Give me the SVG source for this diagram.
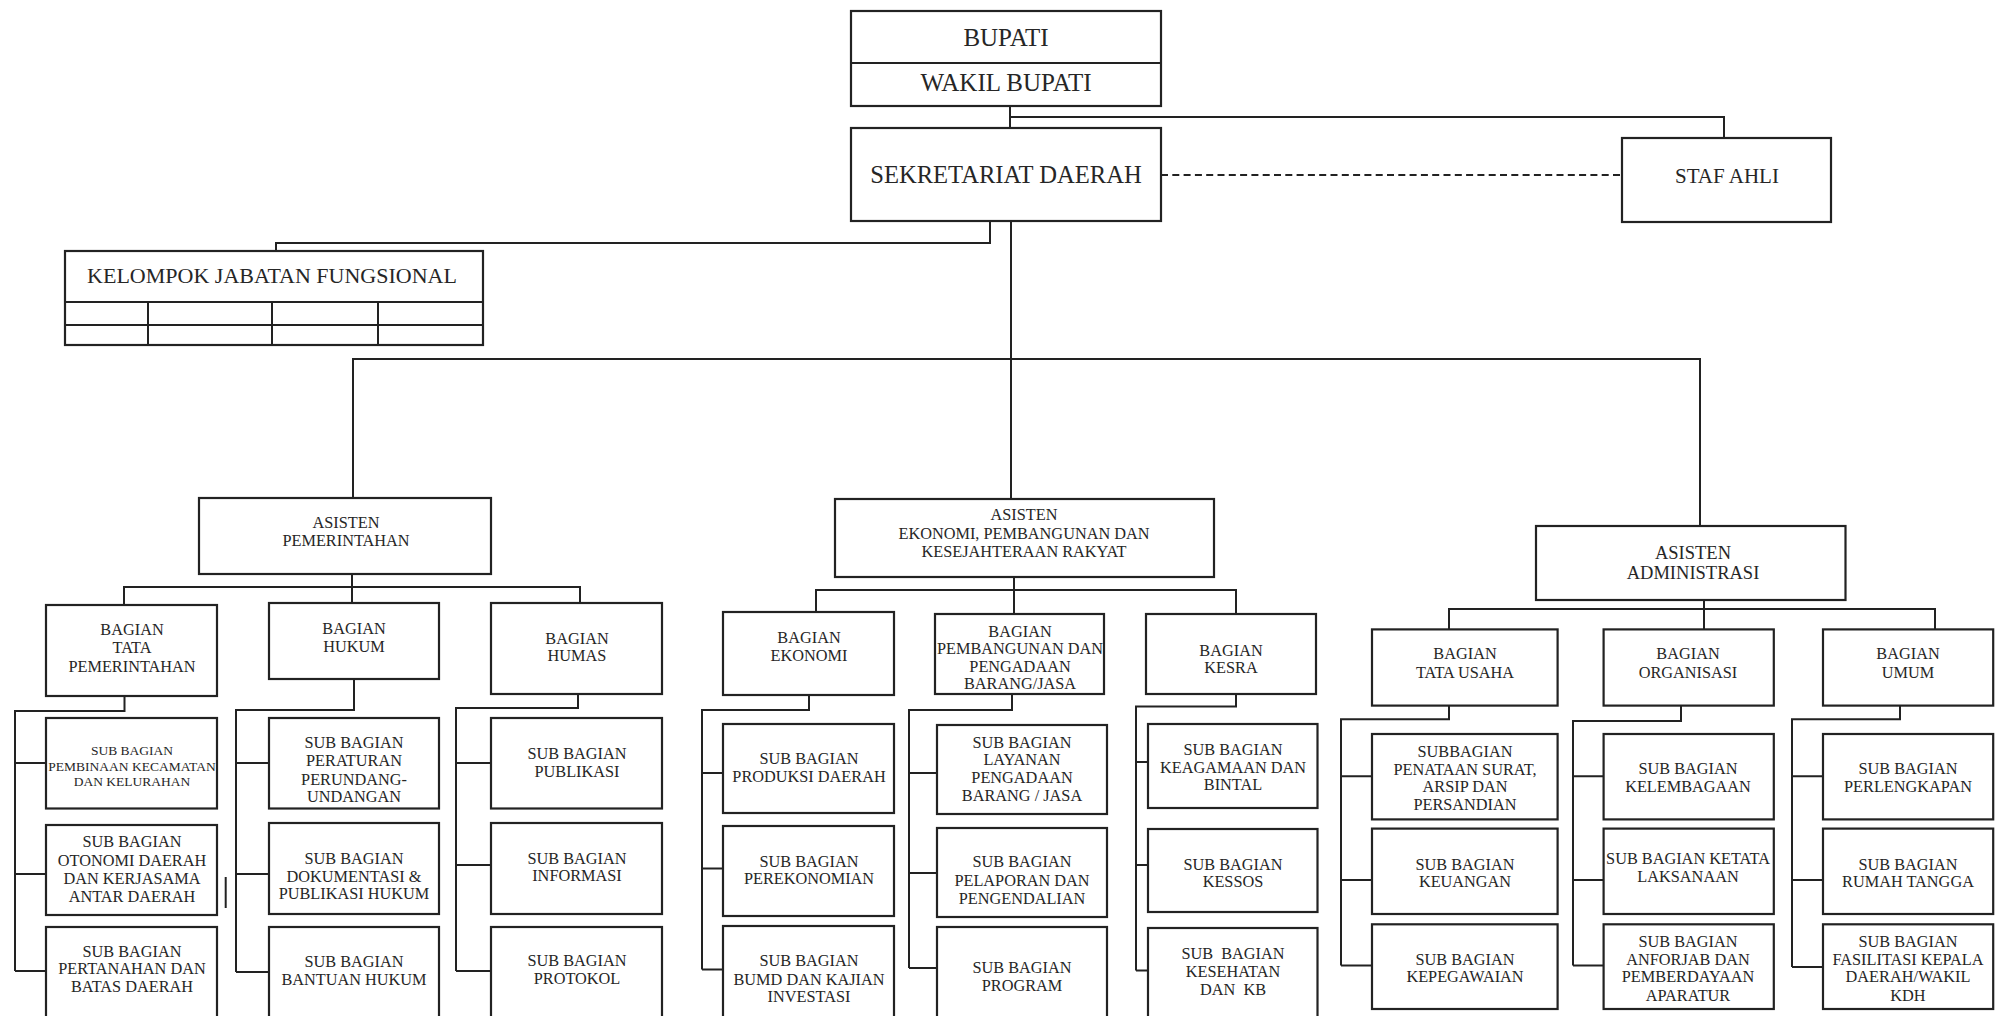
<svg xmlns="http://www.w3.org/2000/svg" width="2001" height="1016" viewBox="0 0 2001 1016">
<style>
.box{fill:#fff;stroke:#222;stroke-width:2.2}
.ln{fill:none;stroke:#222;stroke-width:2}
.dash{fill:none;stroke:#222;stroke-width:2;stroke-dasharray:7 4.3}
.t{font-family:"Liberation Serif","Times New Roman",serif;fill:#262626;text-anchor:middle;font-size:16.3px}
.big{font-size:25px}
.mid{font-size:22px}
.sm{font-size:13.5px}
.adm{font-size:18.5px}
</style>
<rect width="2001" height="1016" fill="#fff"/>
<g id="connectors">
<path class="ln" d="M1010 106V128M1010 117H1724V138"/>
<path class="dash" d="M1161 175H1622"/>
<path class="ln" d="M1011 221V499M990 221V243H276V251"/>
<path class="ln" d="M353 498V359H1700V526"/>
<path class="ln" d="M352 574V587M124 605V587H580V603M352 587V603"/>
<path class="ln" d="M124.5 696V711H15V971M15 763H46M15 874H46M15 971H46"/>
<path class="ln" d="M354 679V710H236V972M236 763H269M236 874H269M236 972H269"/>
<path class="ln" d="M578 694V708H456V971M456 763H491M456 865H491M456 971H491"/>
<path class="ln" d="M225.7 877V908"/>
<path class="ln" d="M1014 577V590M816 612V590H1236V614M1014 590V614"/>
<path class="ln" d="M809 695V710H702V969.5M702 773H723M702 868.6H723M702 969.5H723"/>
<path class="ln" d="M1012 694V710H909V968M909 773H937M909 873H937M909 968H937"/>
<path class="ln" d="M1236 694V706.6H1136V970.5M1136 762H1148M1136 865H1148M1136 970.5H1148"/>
<path class="ln" d="M1704 600V609M1449 629V609H1935V629M1704 609V629"/>
<path class="ln" d="M1449 705.6V719.3H1341V965.4M1341 776.3H1372M1341 880H1372M1341 965.4H1372"/>
<path class="ln" d="M1681 705.6V721H1573V965.4M1573 776.3H1603.6M1573 880H1603.6M1573 965.4H1603.6"/>
<path class="ln" d="M1900 705.6V719.3H1792V967M1792 776.3H1823M1792 880H1823M1792 967H1823"/>
</g>
<g id="bupati">
<rect class="box" x="851" y="11" width="310" height="95"/>
<path class="ln" d="M851 63H1161"/>
<text class="t big" x="1006" y="46">BUPATI</text>
<text class="t big" x="1006" y="91">WAKIL BUPATI</text>
</g>
<g id="sekda">
<rect class="box" x="851" y="128" width="310" height="93"/>
<text class="t" style="font-size:24.6px" x="1006" y="183">SEKRETARIAT DAERAH</text>
</g>
<g id="staf-ahli">
<rect class="box" x="1622" y="138" width="209" height="84"/>
<text class="t" style="font-size:21px" x="1727" y="183">STAF AHLI</text>
</g>
<g id="kelompok">
<rect class="box" x="65" y="251" width="418" height="94"/>
<path class="ln" d="M65 302H483M65 325H483M148 302V345M272 302V345M378 302V345"/>
<text class="t mid" x="272" y="283">KELOMPOK JABATAN FUNGSIONAL</text>
</g>
<g id="asisten-pemerintahan">
<rect class="box" x="199" y="498" width="292" height="76"/>
<text class="t"><tspan x="346" y="528">ASISTEN</tspan><tspan x="346" y="546">PEMERINTAHAN</tspan></text>
</g>
<g id="bagian-tata-pemerintahan">
<rect class="box" x="46" y="605" width="171" height="91"/>
<text class="t"><tspan x="132" y="634.5">BAGIAN</tspan><tspan x="132" y="653">TATA</tspan><tspan x="132" y="672">PEMERINTAHAN</tspan></text>
</g>
<g id="bagian-hukum">
<rect class="box" x="269" y="603" width="170" height="76"/>
<text class="t"><tspan x="354" y="634">BAGIAN</tspan><tspan x="354" y="652">HUKUM</tspan></text>
</g>
<g id="bagian-humas">
<rect class="box" x="491" y="603" width="171" height="91"/>
<text class="t"><tspan x="577" y="644">BAGIAN</tspan><tspan x="577" y="661">HUMAS</tspan></text>
</g>
<g id="sub-pembinaan">
<rect class="box" x="46" y="718" width="171" height="90.5"/>
<text class="t sm"><tspan x="132" y="755">SUB BAGIAN</tspan><tspan x="132" y="771">PEMBINAAN KECAMATAN</tspan><tspan x="132" y="786">DAN KELURAHAN</tspan></text>
</g>
<g id="sub-otonomi">
<rect class="box" x="46" y="825" width="171" height="90"/>
<text class="t"><tspan x="132" y="847.4">SUB BAGIAN</tspan><tspan x="132" y="865.6">OTONOMI DAERAH</tspan><tspan x="132" y="884.4">DAN KERJASAMA</tspan><tspan x="132" y="902">ANTAR DAERAH</tspan></text>
</g>
<g id="sub-pertanahan">
<rect class="box" x="46" y="927" width="171" height="100"/>
<text class="t"><tspan x="132" y="957">SUB BAGIAN</tspan><tspan x="132" y="974">PERTANAHAN DAN</tspan><tspan x="132" y="992">BATAS DAERAH</tspan></text>
</g>
<g id="sub-peraturan">
<rect class="box" x="269" y="718" width="170" height="90.5"/>
<text class="t"><tspan x="354" y="748.3">SUB BAGIAN</tspan><tspan x="354" y="766.4">PERATURAN</tspan><tspan x="354" y="785.2">PERUNDANG-</tspan><tspan x="354" y="802.3">UNDANGAN</tspan></text>
</g>
<g id="sub-dokumentasi">
<rect class="box" x="269" y="823" width="170" height="91"/>
<text class="t"><tspan x="354" y="863.5">SUB BAGIAN</tspan><tspan x="354" y="881.6">DOKUMENTASI &amp;</tspan><tspan x="354" y="899.4">PUBLIKASI HUKUM</tspan></text>
</g>
<g id="sub-bantuan-hukum">
<rect class="box" x="269" y="927" width="170" height="100"/>
<text class="t"><tspan x="354" y="966.5">SUB BAGIAN</tspan><tspan x="354" y="984.5">BANTUAN HUKUM</tspan></text>
</g>
<g id="sub-publikasi">
<rect class="box" x="491" y="718" width="171" height="90.5"/>
<text class="t"><tspan x="577" y="758.6">SUB BAGIAN</tspan><tspan x="577" y="776.7">PUBLIKASI</tspan></text>
</g>
<g id="sub-informasi">
<rect class="box" x="491" y="823" width="171" height="91"/>
<text class="t"><tspan x="577" y="864">SUB BAGIAN</tspan><tspan x="577" y="881">INFORMASI</tspan></text>
</g>
<g id="sub-protokol">
<rect class="box" x="491" y="927" width="171" height="100"/>
<text class="t"><tspan x="577" y="966">SUB BAGIAN</tspan><tspan x="577" y="984">PROTOKOL</tspan></text>
</g>
<g id="asisten-ekonomi">
<rect class="box" x="835" y="499" width="379" height="78"/>
<text class="t"><tspan x="1024" y="520.3">ASISTEN</tspan><tspan x="1024" y="538.8">EKONOMI, PEMBANGUNAN DAN</tspan><tspan x="1024" y="557">KESEJAHTERAAN RAKYAT</tspan></text>
</g>
<g id="bagian-ekonomi">
<rect class="box" x="723" y="612" width="171" height="83"/>
<text class="t"><tspan x="809" y="643">BAGIAN</tspan><tspan x="809" y="661">EKONOMI</tspan></text>
</g>
<g id="bagian-pembangunan">
<rect class="box" x="935" y="614" width="169" height="80"/>
<text class="t"><tspan x="1020" y="636.5">BAGIAN</tspan><tspan x="1020" y="653.6">PEMBANGUNAN DAN</tspan><tspan x="1020" y="672">PENGADAAN</tspan><tspan x="1020" y="689.2">BARANG/JASA</tspan></text>
</g>
<g id="bagian-kesra">
<rect class="box" x="1146" y="614" width="170" height="80"/>
<text class="t"><tspan x="1231" y="656">BAGIAN</tspan><tspan x="1231" y="673">KESRA</tspan></text>
</g>
<g id="sub-produksi">
<rect class="box" x="723" y="724" width="171" height="89"/>
<text class="t"><tspan x="809" y="763.7">SUB BAGIAN</tspan><tspan x="809" y="781.5">PRODUKSI DAERAH</tspan></text>
</g>
<g id="sub-perekonomian">
<rect class="box" x="723" y="826" width="171" height="90"/>
<text class="t"><tspan x="809" y="867.3">SUB BAGIAN</tspan><tspan x="809" y="884.3">PEREKONOMIAN</tspan></text>
</g>
<g id="sub-bumd">
<rect class="box" x="723" y="926" width="171" height="100"/>
<text class="t"><tspan x="809" y="966">SUB BAGIAN</tspan><tspan x="809" y="984.5">BUMD DAN KAJIAN</tspan><tspan x="809" y="1002">INVESTASI</tspan></text>
</g>
<g id="sub-layanan">
<rect class="box" x="937" y="725" width="170" height="89"/>
<text class="t"><tspan x="1022" y="748.3">SUB BAGIAN</tspan><tspan x="1022" y="765.4">LAYANAN</tspan><tspan x="1022" y="783.2">PENGADAAN</tspan><tspan x="1022" y="801.3">BARANG / JASA</tspan></text>
</g>
<g id="sub-pelaporan">
<rect class="box" x="937" y="828" width="170" height="89"/>
<text class="t"><tspan x="1022" y="867.3">SUB BAGIAN</tspan><tspan x="1022" y="885.7">PELAPORAN DAN</tspan><tspan x="1022" y="903.8">PENGENDALIAN</tspan></text>
</g>
<g id="sub-program">
<rect class="box" x="937" y="927" width="170" height="100"/>
<text class="t"><tspan x="1022" y="972.5">SUB BAGIAN</tspan><tspan x="1022" y="990.5">PROGRAM</tspan></text>
</g>
<g id="sub-keagamaan">
<rect class="box" x="1148" y="724" width="169.5" height="84"/>
<text class="t"><tspan x="1233" y="755">SUB BAGIAN</tspan><tspan x="1233" y="773">KEAGAMAAN DAN</tspan><tspan x="1233" y="790.4">BINTAL</tspan></text>
</g>
<g id="sub-kessos">
<rect class="box" x="1148" y="829" width="169.5" height="83"/>
<text class="t"><tspan x="1233" y="869.6">SUB BAGIAN</tspan><tspan x="1233" y="886.7">KESSOS</tspan></text>
</g>
<g id="sub-kesehatan">
<rect class="box" x="1148" y="928" width="169.5" height="100"/>
<text class="t" xml:space="preserve"><tspan x="1233" y="958.5">SUB  BAGIAN</tspan><tspan x="1233" y="976.6">KESEHATAN</tspan><tspan x="1233" y="995.4">DAN  KB</tspan></text>
</g>
<g id="asisten-administrasi">
<rect class="box" x="1536" y="526" width="309.5" height="74"/>
<text class="t adm"><tspan x="1693" y="558.6">ASISTEN</tspan><tspan x="1693" y="579">ADMINISTRASI</tspan></text>
</g>
<g id="bagian-tata-usaha">
<rect class="box" x="1372" y="629.4" width="185.6" height="76.2"/>
<text class="t"><tspan x="1465" y="659.4">BAGIAN</tspan><tspan x="1465" y="677.6">TATA USAHA</tspan></text>
</g>
<g id="bagian-organisasi">
<rect class="box" x="1603.6" y="629.4" width="170.2" height="76.2"/>
<text class="t"><tspan x="1688" y="659.4">BAGIAN</tspan><tspan x="1688" y="677.6">ORGANISASI</tspan></text>
</g>
<g id="bagian-umum">
<rect class="box" x="1823" y="629.4" width="170.2" height="76.2"/>
<text class="t"><tspan x="1908" y="659.4">BAGIAN</tspan><tspan x="1908" y="677.6">UMUM</tspan></text>
</g>
<g id="sub-penataan-surat">
<rect class="box" x="1372" y="734" width="185.6" height="85.4"/>
<text class="t"><tspan x="1465" y="756.9">SUBBAGIAN</tspan><tspan x="1465" y="774.6">PENATAAN SURAT,</tspan><tspan x="1465" y="792">ARSIP DAN</tspan><tspan x="1465" y="809.8">PERSANDIAN</tspan></text>
</g>
<g id="sub-keuangan">
<rect class="box" x="1372" y="828.6" width="185.6" height="85.4"/>
<text class="t"><tspan x="1465" y="869.6">SUB BAGIAN</tspan><tspan x="1465" y="886.7">KEUANGAN</tspan></text>
</g>
<g id="sub-kepegawaian">
<rect class="box" x="1372" y="924.3" width="185.6" height="84.7"/>
<text class="t"><tspan x="1465" y="964.7">SUB BAGIAN</tspan><tspan x="1465" y="982.4">KEPEGAWAIAN</tspan></text>
</g>
<g id="sub-kelembagaan">
<rect class="box" x="1603.6" y="734" width="170.2" height="85.4"/>
<text class="t"><tspan x="1688" y="774">SUB BAGIAN</tspan><tspan x="1688" y="791.7">KELEMBAGAAN</tspan></text>
</g>
<g id="sub-ketatalaksanaan">
<rect class="box" x="1603.6" y="828.6" width="170.2" height="85.4"/>
<text class="t"><tspan x="1688" y="863.5">SUB BAGIAN KETATA</tspan><tspan x="1688" y="881.6">LAKSANAAN</tspan></text>
</g>
<g id="sub-anforjab">
<rect class="box" x="1603.6" y="924.3" width="170.2" height="84.7"/>
<text class="t"><tspan x="1688" y="946.6">SUB BAGIAN</tspan><tspan x="1688" y="964.7">ANFORJAB DAN</tspan><tspan x="1688" y="982.4">PEMBERDAYAAN</tspan><tspan x="1688" y="1000.6">APARATUR</tspan></text>
</g>
<g id="sub-perlengkapan">
<rect class="box" x="1823" y="734" width="170.2" height="85.4"/>
<text class="t"><tspan x="1908" y="774">SUB BAGIAN</tspan><tspan x="1908" y="791.7">PERLENGKAPAN</tspan></text>
</g>
<g id="sub-rumah-tangga">
<rect class="box" x="1823" y="828.6" width="170.2" height="85.4"/>
<text class="t"><tspan x="1908" y="869.6">SUB BAGIAN</tspan><tspan x="1908" y="886.7">RUMAH TANGGA</tspan></text>
</g>
<g id="sub-fasilitasi">
<rect class="box" x="1823" y="924.3" width="170.2" height="84.7"/>
<text class="t"><tspan x="1908" y="946.6">SUB BAGIAN</tspan><tspan x="1908" y="964.7">FASILITASI KEPALA</tspan><tspan x="1908" y="982.4">DAERAH/WAKIL</tspan><tspan x="1908" y="1000.6">KDH</tspan></text>
</g>
</svg>
